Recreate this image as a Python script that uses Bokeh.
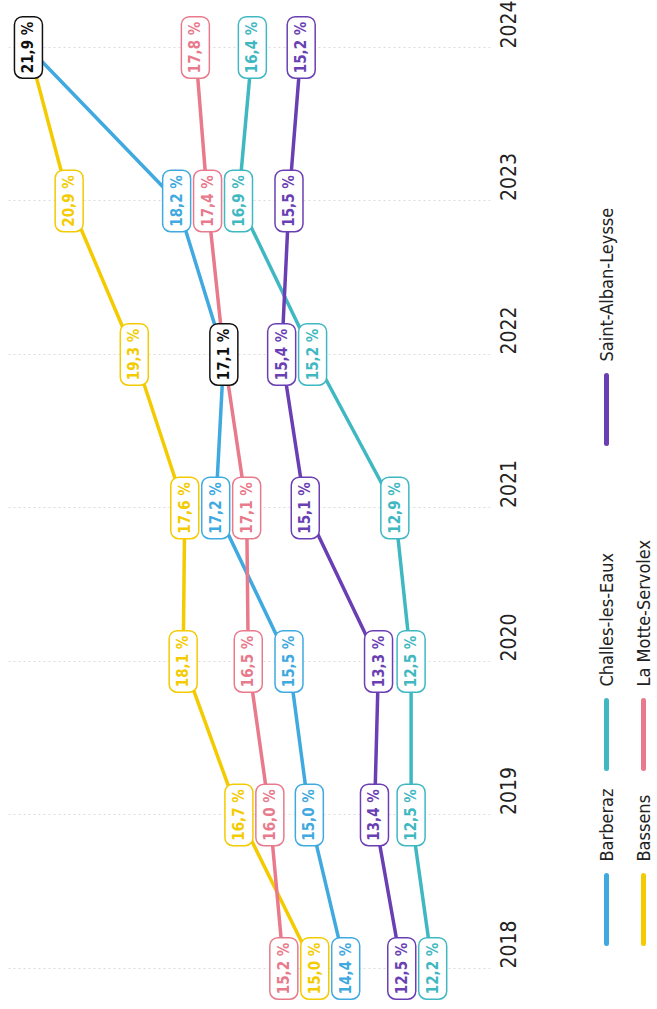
import math
from bokeh.plotting import figure
from bokeh.models import ColumnDataSource, Range1d, FixedTicker
from bokeh.layouts import row
from bokeh.embed import file_html
from bokeh.resources import INLINE
from bokeh.core.properties import value

# ---------------- data ----------------
years = [2018, 2019, 2020, 2021, 2022, 2023, 2024]
series = ["Barberaz", "Bassens", "Challes-les-Eaux", "La Motte-Servolex", "Saint-Alban-Leysse"]
barberaz = [14.4, 15.0, 15.5, 17.2, 17.1, 18.2, 21.9]
bassens = [15.0, 16.7, 18.1, 17.6, 19.3, 20.9, 21.9]
challes = [12.2, 12.5, 12.5, 12.9, 15.2, 16.9, 16.4]
la_motte = [15.2, 16.0, 16.5, 17.1, 17.1, 17.4, 17.8]
saint_alban = [12.5, 13.4, 13.3, 15.1, 15.4, 15.5, 15.2]
values = [barberaz, bassens, challes, la_motte, saint_alban]

# ---------------- style ----------------
colors = ["#3fa9e0", "#f3cb00", "#3fb8c2", "#e87a8c", "#6a3fb4"]
FONT = "'Liberation Sans Narrow', 'DejaVu Sans Condensed', Roboto, sans-serif"
SEP = 0.76  # minimum spacing between label centres (value units)


def group_pos(vals, g):
    c = sum(vals[i] for i in g) / len(g)
    n = len(g)
    return [c + SEP * ((n - 1) / 2 - k) for k in range(n)]


def dodge(vals):
    order = sorted(range(len(vals)), key=lambda i: -vals[i])
    groups = []
    for i in order:
        groups.append([i])
        while len(groups) > 1:
            p1 = group_pos(vals, groups[-2])
            p2 = group_pos(vals, groups[-1])
            if p1[-1] - p2[0] < SEP:
                g = groups.pop()
                groups[-1] = groups[-1] + g
            else:
                break
    out = [0.0] * len(vals)
    for g in groups:
        for i, pp in zip(g, group_pos(vals, g)):
            out[i] = pp
    return out


# per-year labels (equal values merged into one black label)
pos = [[0.0] * len(years) for _ in series]
lab = dict(x=[], y=[], text=[], color=[])
for j, yr in enumerate(years):
    uniq = []
    members = []
    for s in range(len(series)):
        v = values[s][j]
        if v in uniq:
            members[uniq.index(v)].append(s)
        else:
            uniq.append(v)
            members.append([s])
    dp = dodge(uniq)
    for k, v in enumerate(uniq):
        for s in members[k]:
            pos[s][j] = dp[k]
        lab["x"].append(dp[k])
        lab["y"].append(yr)
        lab["text"].append(f"{v:.1f}".replace(".", ",") + " %")
        lab["color"].append("#111111" if len(members[k]) > 1 else colors[members[k][0]])

# ---------------- main figure ----------------
p = figure(frame_width=482, frame_height=1000,
           x_range=Range1d(22.39, 10.55), y_range=Range1d(2017.739, 2024.254),
           output_backend="svg", toolbar_location=None,
           y_axis_location="right", x_axis_location=None,
           min_border_left=8, min_border_top=8, min_border_bottom=0, min_border_right=40,
           outline_line_color=None, background_fill_color="white")
p.xgrid.visible = False
p.yaxis.ticker = FixedTicker(ticks=years)
p.ygrid.ticker = FixedTicker(ticks=years)
p.ygrid.grid_line_color = "#dcdcdc"
p.ygrid.grid_line_dash = "2 3"
p.ygrid.grid_line_width = 1
p.yaxis.axis_line_color = None
p.yaxis.major_tick_line_color = None
p.yaxis.minor_tick_line_color = None
p.yaxis.major_label_orientation = math.pi / 2
p.yaxis.major_label_standoff = 12
p.yaxis.major_label_text_font = FONT
p.yaxis.major_label_text_font_size = "21px"
p.yaxis.major_label_text_color = "#222222"

for s in range(len(series)):
    p.line(x=pos[s], y=years, line_color=colors[s], line_width=3.5, line_join="round")

src = ColumnDataSource(lab)
p.text(x="x", y="y", text="text", source=src, angle=math.pi / 2,
       text_align="center", text_baseline="middle",
       text_color="color", text_font=value(FONT), text_font_style="bold",
       text_font_size="15px",
       background_fill_color="white", border_line_color="color",
       border_line_width=1.5, border_radius=8, padding=5)

# ---------------- legend figure (rotated) ----------------
lg = figure(frame_width=125, frame_height=1000,
            x_range=Range1d(530, 655), y_range=Range1d(-1008, -8),
            output_backend="svg", toolbar_location=None,
            x_axis_location=None, y_axis_location=None,
            min_border=0, min_border_top=8, outline_line_color=None)
lg.xgrid.visible = False
lg.ygrid.visible = False

col_x = [606, 643]
row_top = [875, 700, 375]
slots = [(0, 0), (1, 0), (0, 1), (1, 1), (0, 2)]
for s, (c, r) in enumerate(slots):
    x = col_x[c]
    top = row_top[r]
    lg.line(x=[x, x], y=[-top, -(top + 68)], line_color=colors[s], line_width=5, line_cap="round")
    lg.text(x=[x], y=[-(top - 14)], text=[series[s]], angle=math.pi / 2,
            text_align="left", text_baseline="middle",
            text_font=value(FONT), text_font_size="18px", text_color="#222222")

layout = row(p, lg)
open("out.html", "w").write(file_html(layout, INLINE))
